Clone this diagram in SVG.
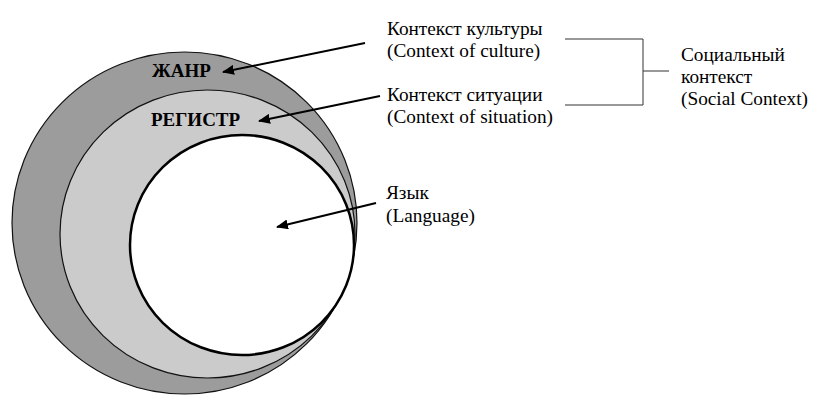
<svg xmlns="http://www.w3.org/2000/svg" width="816" height="406" viewBox="0 0 816 406">
<style>
.ring{stroke:#111;stroke-width:1.2}
.ar{stroke:#000;stroke-width:2;fill:none}
.ln{stroke:#333;stroke-width:1;fill:none}
</style>
<defs>
<marker id="ah" viewBox="0 0 12 10" refX="11" refY="5" markerWidth="12" markerHeight="10" markerUnits="userSpaceOnUse" orient="auto">
<path d="M0,0 L12,5 L0,10 Z" fill="#000"/>
</marker>
</defs>
<rect width="816" height="406" fill="#fff"/>
<g id="genre">
<ellipse class="ring" cx="184.5" cy="223" rx="172.5" ry="171" fill="#9c9c9c"/>
<text font-family="Liberation Serif" font-size="19" font-weight="bold" x="152" y="77">ЖАНР</text>
</g>
<g id="register">
<ellipse class="ring" cx="207.5" cy="234" rx="147.5" ry="144" fill="#cbcbcb"/>
<text font-family="Liberation Serif" font-size="19" font-weight="bold" x="151" y="126">РЕГИСТР</text>
</g>
<g id="language">
<ellipse cx="242" cy="245" rx="112" ry="110" fill="#fff" stroke="#000" stroke-width="2.5"/>
</g>
<g id="connectors">
<line class="ar" x1="365" y1="43" x2="223" y2="72" marker-end="url(#ah)"/>
<line class="ar" x1="380" y1="96" x2="259" y2="121" marker-end="url(#ah)"/>
<line class="ar" x1="376" y1="203" x2="277" y2="227" marker-end="url(#ah)"/>
<polyline class="ln" points="565,39 643,39 643,105 565,105"/>
<line class="ln" x1="643" y1="71" x2="669" y2="71"/>
</g>
<g id="culture" font-size="19.3">
<text font-family="Liberation Serif" x="387" y="35">Контекст культуры</text>
<text font-family="Liberation Serif" x="387" y="57">(Context of culture)</text>
</g>
<g id="situation" font-size="19.3">
<text font-family="Liberation Serif" x="387" y="101">Контекст ситуации</text>
<text font-family="Liberation Serif" x="387" y="123">(Context of situation)</text>
</g>
<g id="lang-label" font-size="19.3">
<text font-family="Liberation Serif" x="386" y="199">Язык</text>
<text font-family="Liberation Serif" x="386" y="222">(Language)</text>
</g>
<g id="social" font-size="19.3">
<text font-family="Liberation Serif" x="681" y="61">Социальный</text>
<text font-family="Liberation Serif" x="681" y="83">контекст</text>
<text font-family="Liberation Serif" x="681" y="105">(Social Context)</text>
</g>
</svg>
